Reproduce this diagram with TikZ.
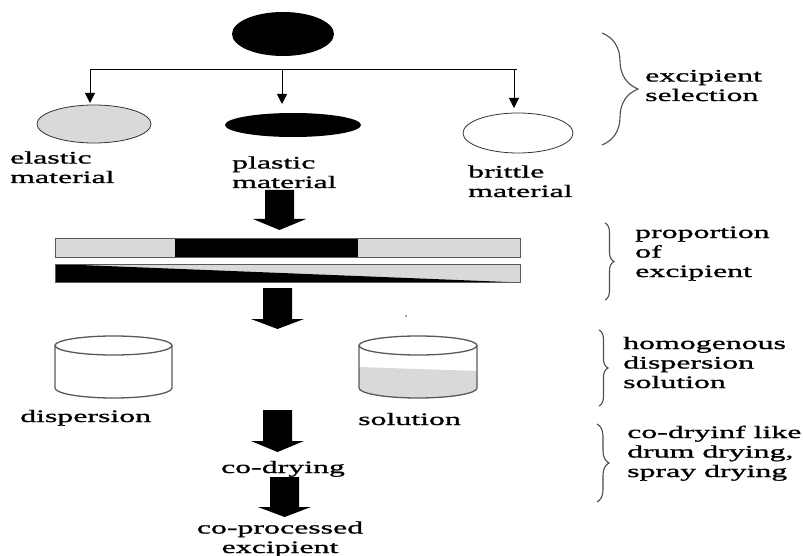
\documentclass[tikz,border=0pt]{standalone}
\usepackage{fontspec}
\setmainfont{Liberation Serif}[FakeStretch=1.82,FakeBold=1.2]
\usetikzlibrary{decorations.pathreplacing,arrows.meta,shapes.geometric}
\definecolor{lg}{HTML}{D9D9D9}
\newcommand\blockarr[4]{\fill[black] (#1-14.5,#2) -- (#1+14.5,#2) -- (#1+14.5,#3) -- (#1+26.5,#3) -- (#1,#4) -- (#1-26.5,#3) -- (#1-14.5,#3) -- cycle;}
\begin{document}
\begin{tikzpicture}[x=1pt,y=-1pt,
  lbl/.style={font=\fontsize{17.5}{19.5}\selectfont, inner sep=0pt, align=left, anchor=base west},
  brc/.style={decorate, decoration={brace, amplitude=#1}, draw=black!70, line width=1.1pt},
  thinarr/.style={-{Triangle[width=10pt,length=10pt]}, line width=1pt},
  ell/.style={ellipse, inner sep=0pt, line width=0.8pt},
  cyl/.style={draw=black!65, line width=1.3pt}]
\useasboundingbox (0,0) rectangle (803,556);

% excipient selection
\node[ell, fill=black, minimum width=102pt, minimum height=44pt] (src) at (283,34) {};
\coordinate (jl) at (90,69);
\coordinate (jm) at (282,69);
\coordinate (jr) at (514,69);
\coordinate (je) at (517,69);
\draw[line width=0.9pt] (jl) -- (je);
\node[ell, draw=black!80, fill=lg, minimum width=114pt, minimum height=38pt] (elastic) at (94,124) {};
\node[ell, fill=black, minimum width=136pt, minimum height=24pt] (plastic) at (293,125) {};
\node[ell, draw=black!80, fill=white, minimum width=110pt, minimum height=40pt] (brittle) at (518,133) {};
\draw[thinarr] (jl) -- (90,103);
\draw[thinarr] (jm) -- (282,104);
\draw[thinarr] (jr) -- (514,108);

% multi-line labels: anchor at the baseline of the last line
\node[lbl] (lel) at (10,183) {elastic\\material};
\node[lbl] (lpl) at (232,188) {plastic\\material};
\node[lbl] (lbr) at (468,197) {brittle\\material};

\draw[brc=36] (602,33) -- (602,145);
\node[lbl] (t1) at (645,101) {excipient\\selection};

% arrow 1
\blockarr{279.5}{190}{219}{230}

% proportion bars
\fill[lg] (55,238) rectangle (520,257);
\fill[black] (175,238) rectangle (358,257);
\draw[black!65, line width=0.9pt] (55,238) rectangle (520,257);
\fill[lg] (55,264) rectangle (520,282);
\fill[black] (55,264) -- (508,282) -- (55,282) -- cycle;
\draw[black!65, line width=0.9pt] (55,264) rectangle (520,282);

\draw[brc=9] (605,223) -- (605,300);
\node[lbl] (t2) at (635,277) {proportion\\of\\excipient};

% arrow 2
\blockarr{277.5}{288}{319}{329}
\fill[black!70] (406,316) circle (0.9);

% cylinders
\fill[white] (55,345.5) -- (55,388) arc[start angle=180, end angle=0, x radius=58.5, y radius=10] -- (172,345.5) -- cycle;
\draw[cyl] (55,345.5) -- (55,388) arc[start angle=180, end angle=0, x radius=58.5, y radius=10] -- (172,345.5);
\draw[cyl, fill=white] (113.5,345.5) ellipse [x radius=58.5, y radius=9.5];
\fill[lg] (359,367) -- (477,371) -- (477,388) arc[start angle=0, end angle=180, x radius=59, y radius=10] -- cycle;
\draw[cyl] (359,345.5) -- (359,388) arc[start angle=180, end angle=0, x radius=59, y radius=10] -- (477,345.5);
\draw[cyl, fill=white] (418,345.5) ellipse [x radius=59, y radius=9.5];

\node[lbl] (ldis) at (20,422) {dispersion};
\node[lbl] (lsol) at (358,425) {solution};

\draw[brc=9] (599,330) -- (599,406);
\node[lbl] (t3) at (623,388) {homogenous\\dispersion\\solution};

% arrow 3
\blockarr{277.5}{410}{441}{452}
\node[lbl, anchor=base] (cod) at (283,473) {co-drying};
% arrow 4
\blockarr{284.5}{477}{507}{517}
\node[lbl, anchor=base, align=center] (cop) at (280,553) {co-processed\\excipient};

\draw[brc=12] (597,424) -- (597,502);
\node[lbl] (t4) at (627,477) {co-dryinf like\\drum drying,\\spray drying};
\end{tikzpicture}
\end{document}
